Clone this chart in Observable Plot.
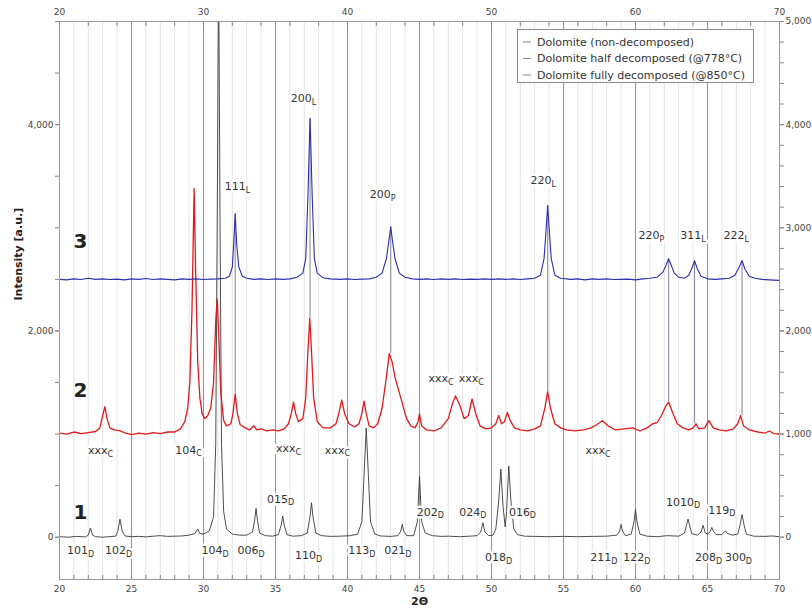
<!DOCTYPE html>
<html>
<head>
<meta charset="utf-8">
<script src="https://cdn.jsdelivr.net/npm/d3@7"></script>
<script src="https://cdn.jsdelivr.net/npm/@observablehq/plot@0.6"></script>
<style>
  html, body { margin: 0; padding: 0; background: white; }
  #chart { width: 812px; height: 611px; }
</style>
</head>
<body>
<div id="chart"></div>
<script>
// ---------- data ----------
// Series 1: Dolomite (non-decomposed), black, [2θ, intensity]
const s1X = [20.0,20.6,21.2,21.8,22.0,22.15,22.3,22.5,23.0,23.5,23.9,24.05,24.2,24.35,24.55,25.0,25.5,26.0,26.5,27.0,27.5,28.0,28.5,29.0,29.4,29.6,29.75,30.0,30.4,30.7,30.85,30.95,31.05,31.15,31.25,31.4,31.6,32.0,32.5,33.0,33.4,33.55,33.65,33.75,33.9,34.3,34.8,35.2,35.4,35.5,35.6,35.8,36.2,36.8,37.2,37.4,37.5,37.6,37.8,38.2,38.8,39.5,40.2,40.7,41.0,41.15,41.3,41.45,41.6,41.9,42.3,43.0,43.5,43.7,43.8,43.9,44.1,44.6,44.85,45.0,45.15,45.4,45.9,46.5,47.0,47.8,48.5,49.0,49.25,49.4,49.55,49.8,50.1,50.3,50.5,50.65,50.8,50.95,51.05,51.2,51.35,51.55,51.8,52.3,53.0,54.0,55.0,56.0,57.0,58.0,58.7,58.9,59.0,59.1,59.3,59.7,59.9,60.0,60.1,60.3,60.8,61.5,62.2,63.0,63.4,63.55,63.65,63.75,63.9,64.3,64.55,64.7,64.85,65.05,65.2,65.3,65.4,65.6,66.0,66.15,66.25,66.35,66.7,67.1,67.25,67.4,67.55,67.7,68.2,69.0,69.5,70.0];
const s1Y = [5,0,8,3,20,90,20,5,0,6,10,60,175,60,12,5,8,3,10,15,8,10,12,20,35,80,35,30,60,200,900,3000,5600,3000,900,250,80,30,20,20,50,160,280,160,40,15,10,25,120,205,120,25,10,15,40,200,334,200,40,15,8,10,15,30,150,600,1060,600,150,30,12,8,15,60,125,60,15,15,150,590,150,40,15,8,10,5,10,15,50,140,50,15,20,80,350,660,300,100,250,690,350,80,25,10,8,5,8,5,8,10,20,60,125,60,15,30,150,270,150,30,10,5,15,10,40,120,175,120,35,20,50,115,40,30,60,95,60,25,25,50,60,40,20,30,110,220,110,30,10,8,12,5];

// Series 2: Dolomite half decomposed (@778°C), red
const s2X = [20.0,20.5,21.0,21.5,22.0,22.5,22.8,23.0,23.15,23.3,23.5,23.8,24.2,24.6,25.0,25.5,26.0,26.5,27.0,27.5,28.0,28.4,28.7,28.9,29.05,29.2,29.35,29.45,29.6,29.75,29.9,30.1,30.3,30.5,30.7,30.85,30.95,31.05,31.2,31.4,31.6,31.9,32.05,32.2,32.35,32.55,32.9,33.2,33.5,33.7,34.0,34.4,34.8,35.2,35.6,35.9,36.1,36.25,36.4,36.6,36.9,37.1,37.25,37.38,37.5,37.65,37.9,38.3,38.8,39.2,39.4,39.6,39.8,40.1,40.5,40.8,41.0,41.15,41.3,41.5,41.8,42.1,42.4,42.7,42.9,43.1,43.3,43.5,43.8,44.1,44.4,44.7,44.9,45.0,45.15,45.5,46.0,46.5,47.0,47.3,47.5,47.8,48.1,48.4,48.65,48.9,49.2,49.6,50.0,50.3,50.5,50.7,50.9,51.1,51.3,51.6,52.0,52.5,53.0,53.4,53.7,53.9,54.1,54.4,54.8,55.2,55.8,56.4,56.9,57.3,57.7,58.1,58.6,59.2,59.8,60.3,60.8,61.2,61.5,61.8,62.1,62.3,62.6,62.9,63.3,63.7,64.0,64.2,64.4,64.8,65.1,65.4,65.8,66.3,66.8,67.1,67.3,67.5,67.9,68.5,69.0,69.3,69.6,70.0];
const s2Y = [1010,1000,1020,1005,1015,1025,1060,1180,1265,1150,1060,1040,1030,1010,995,1010,1000,1015,1005,1020,1020,1050,1120,1250,1500,2200,3380,2600,1700,1350,1200,1150,1180,1250,1500,2100,2310,2000,1400,1130,1080,1100,1200,1390,1200,1090,1060,1040,1080,1040,1050,1030,1040,1030,1050,1100,1200,1310,1200,1120,1150,1350,1800,2120,1800,1350,1120,1060,1060,1100,1200,1330,1200,1100,1070,1100,1200,1320,1200,1080,1060,1100,1250,1550,1780,1700,1550,1450,1300,1150,1080,1060,1120,1195,1080,1040,1030,1060,1150,1300,1370,1280,1150,1180,1340,1200,1080,1050,1060,1100,1180,1100,1120,1210,1130,1060,1040,1030,1050,1080,1250,1410,1250,1100,1060,1040,1030,1040,1060,1090,1130,1080,1040,1050,1060,1030,1060,1100,1110,1180,1270,1310,1200,1100,1060,1040,1060,1100,1050,1060,1130,1060,1040,1030,1050,1100,1180,1080,1040,1020,1010,1030,1005,1000];

// Series 3: Dolomite fully decomposed (@850°C), blue
const s3X = [20.0,20.5,21.0,21.5,22.0,22.5,23.0,23.5,24.0,24.5,25.0,25.5,26.0,26.5,27.0,27.5,28.0,28.5,29.0,29.5,30.0,30.5,31.0,31.5,31.8,32.0,32.1,32.2,32.3,32.45,32.7,33.0,33.5,34.0,34.5,35.0,35.5,36.0,36.5,36.9,37.1,37.25,37.4,37.55,37.7,37.9,38.3,38.8,39.5,40.0,40.5,41.0,41.5,42.0,42.4,42.7,42.9,43.0,43.1,43.3,43.6,44.0,44.5,45.0,45.5,46.0,46.5,47.0,47.5,48.0,48.5,49.0,49.5,50.0,50.5,51.0,51.5,52.0,52.5,53.0,53.4,53.65,53.8,53.9,54.0,54.15,54.4,54.8,55.5,56.0,56.5,57.0,57.5,58.0,58.5,59.0,59.5,60.0,60.5,61.0,61.5,61.9,62.1,62.3,62.5,62.7,63.0,63.4,63.7,63.95,64.1,64.3,64.55,65.0,65.5,66.0,66.5,66.9,67.2,67.4,67.6,67.9,68.3,68.8,69.3,70.0];
const s3Y = [2500,2495,2505,2498,2510,2500,2505,2498,2502,2495,2505,2500,2508,2498,2505,2500,2495,2505,2500,2505,2498,2502,2505,2510,2530,2620,2850,3135,2850,2620,2530,2510,2500,2505,2498,2505,2500,2505,2520,2560,2700,3300,4060,3300,2700,2560,2515,2505,2500,2505,2498,2502,2505,2520,2560,2700,2900,3010,2900,2700,2560,2520,2505,2500,2505,2498,2505,2500,2505,2498,2502,2500,2505,2500,2505,2500,2505,2498,2505,2510,2540,2700,3000,3215,3000,2700,2540,2510,2500,2505,2495,2505,2500,2505,2498,2500,2502,2495,2505,2510,2520,2570,2630,2700,2630,2560,2520,2510,2540,2620,2680,2600,2530,2505,2500,2505,2510,2540,2620,2680,2600,2530,2510,2500,2495,2490];

// Drop lines from the blue peaks down to the red curve
const dropX      = [32.2, 37.4, 43.0, 53.9, 62.3, 64.1, 67.4];
const dropTop    = [3135, 4060, 3010, 3215, 2700, 2680, 2680];
const dropBottom = [1390, 2120, 1780, 1410, 1310, 1100, 1180];

// Peak labels ("main|subscript")
const blueLblText = ["111|L","200|L","200|P","220|L","220|P","311|L","222|L"];
const blueLblX    = [32.36, 36.95, 42.45, 53.6, 61.1, 64.0, 67.0];
const blueLblY    = [3400, 4255, 3320, 3457, 2921, 2921, 2921];

const redLblText = ["xxx|C","104|C","xxx|C","xxx|C","xxx|C","xxx|C","xxx|C"];
const redLblX    = [22.85, 28.96, 35.9, 39.3, 46.5, 48.6, 57.4];
const redLblY    = [840, 845, 857, 845, 1538, 1538, 837];

const blackLblText = ["101|D","102|D","104|D","006|D","015|D","110|D","113|D","021|D","202|D","024|D","016|D","018|D","211|D","122|D","1010|D","119|D","208|D","300|D"];
const blackLblX    = [21.46, 24.1, 30.8, 33.3, 35.35, 37.3, 41.0, 43.5, 45.76, 48.7, 52.15, 50.5, 57.8, 60.1, 63.3, 66.0, 65.07, 67.15];
const blackLblY    = [-130, -130, -130, -130, 370, -175, -130, -130, 243, 243, 243, -200, -200, -200, 341, 263, -200, -200];

const seriesNum  = ["3", "2", "1"];
const seriesNumX = [21.46, 21.46, 21.46];
const seriesNumY = [2863, 1422, 234];

const legendLabels = ["Dolomite (non-decomposed)", "Dolomite half decomposed (@778°C)", "Dolomite fully decomposed (@850°C)"];

// Tick values
const xBottomLabels = [20, 25, 30, 35, 40, 45, 50, 55, 60, 65, 70];
const xTopLabels    = [20, 30, 40, 50, 60, 70];
const xMajorGrid    = [25, 30, 35, 40, 45, 50, 55, 60, 65];
const yLeftLabels   = [0, 2000, 4000];
const yRightLabels  = [0, 1000, 2000, 3000, 4000, 5000];

// ---------- build ----------
const toPts = (xs, ys) => xs.map((x, i) => ({x, y: ys[i]}));
const s1 = toPts(s1X, s1Y), s2 = toPts(s2X, s2Y), s3 = toPts(s3X, s3Y);
const drops = dropX.map((x, i) => ({x, y1: dropBottom[i], y2: dropTop[i]}));
const lbl = (t, xs, ys) => t.map((s, i) => ({t: s, x: xs[i], y: ys[i]}));
const allLabels = [
  ...lbl(blueLblText, blueLblX, blueLblY),
  ...lbl(redLblText, redLblX, redLblY),
  ...lbl(blackLblText, blackLblX, blackLblY)
];
const nums = lbl(seriesNum, seriesNumX, seriesNumY);

const fmt = d3.format(",");

const svg = Plot.plot({
  width: 812, height: 611,
  marginLeft: 59, marginRight: 33, marginTop: 21, marginBottom: 32,
  x: {domain: [20, 70]},
  y: {domain: [-410, 5000]},
  style: {fontFamily: "DejaVu Sans, Verdana, sans-serif", fontSize: "9px", color: "#444", background: "white"},
  marks: [
    Plot.ruleX(d3.range(20, 71, 1), {stroke: "#e4e4e4", strokeWidth: 1}),
    Plot.ruleX(xMajorGrid, {stroke: "#9494a4", strokeWidth: 1.1}),
    Plot.ruleX(drops, {x: "x", y1: "y1", y2: "y2", stroke: "#8f8f9f", strokeWidth: 1.1}),
    Plot.line(s1, {x: "x", y: "y", stroke: "#3a3a3a", strokeWidth: 0.9, clip: true}),
    Plot.line(s2, {x: "x", y: "y", stroke: "#e3191c", strokeWidth: 1.3, clip: true}),
    Plot.line(s3, {x: "x", y: "y", stroke: "#2b2fb0", strokeWidth: 1.1, clip: true}),
    // white halo behind peak labels, then the labels
    Plot.text(allLabels, {x: "x", y: "y", text: "t", fontSize: 11, fill: "white", stroke: "white", strokeWidth: 5}),
    Plot.text(allLabels, {x: "x", y: "y", text: "t", fontSize: 11, fill: "#333"}),
    Plot.text(nums, {x: "x", y: "y", text: "t", fontSize: 20, fontWeight: "bold", fill: "#222"}),
    Plot.frame({stroke: "#9a9a9a"}),
    // bottom axis
    Plot.axisX({anchor: "bottom", ticks: xBottomLabels, tickSize: 0, tickPadding: 6, label: null}),
    Plot.axisX({anchor: "bottom", ticks: d3.range(20, 71, 1), tickSize: 4, tickFormat: () => "", dy: -4, label: null, stroke: "#888"}),
    // top axis
    Plot.axisX({anchor: "top", ticks: xTopLabels, tickSize: 0, tickPadding: 7, label: null}),
    Plot.axisX({anchor: "top", ticks: d3.range(20, 71, 2), tickSize: 4, tickFormat: () => "", dy: 4, label: null, stroke: "#888"}),
    // left axis
    Plot.axisY({anchor: "left", ticks: yLeftLabels, tickFormat: fmt, tickSize: 4, tickPadding: 2, label: null, stroke: "#888"}),
    Plot.axisY({anchor: "left", ticks: d3.range(0, 5001, 500), tickFormat: () => "", tickSize: 4, label: null, stroke: "#888"}),
    // right axis
    Plot.axisY({anchor: "right", ticks: yRightLabels, tickFormat: fmt, tickSize: 4, tickPadding: 2, label: null, stroke: "#888"}),
    Plot.axisY({anchor: "right", ticks: d3.range(0, 5001, 200), tickFormat: () => "", tickSize: 4, label: null, stroke: "#888"}),
    // axis titles
    Plot.text(["2Θ"], {frameAnchor: "bottom", dy: 25, fontSize: 11, fontWeight: "bold", fill: "#222"}),
    Plot.text(["Intensity [a.u.]"], {frameAnchor: "left", dx: -41, rotate: -90, fontSize: 11, fontWeight: "bold", fill: "#222"})
  ]
});

// subscripts
d3.select(svg).selectAll("text").each(function() {
  const t = this.textContent;
  if (t.includes("|") && this.children.length === 0) {
    const [a, b] = t.split("|");
    this.textContent = "";
    const sel = d3.select(this);
    sel.append("tspan").text(a);
    sel.append("tspan").attr("font-size", 8).attr("dy", "0.35em").text(b);
  }
});

// legend inside the plot (top right)
const lg = d3.select(svg).append("g")
  .attr("font-family", "DejaVu Sans, Verdana, sans-serif")
  .attr("font-size", 11)
  .attr("text-anchor", "start")
  .style("text-anchor", "start");
lg.append("rect").attr("x", 517.5).attr("y", 29.5).attr("width", 236).attr("height", 53)
  .attr("fill", "white").attr("stroke", "#8a8a8a");
legendLabels.forEach((s, i) => {
  const y = 42 + i * 16.5;
  lg.append("line").attr("x1", 523).attr("x2", 531).attr("y1", y).attr("y2", y).attr("stroke", "#888");
  lg.append("text").attr("x", 537).attr("y", y).attr("dy", "0.35em").attr("fill", "#333")
    .attr("text-anchor", "start").text(s);
});

document.getElementById("chart").appendChild(svg);
</script>
</body>
</html>
